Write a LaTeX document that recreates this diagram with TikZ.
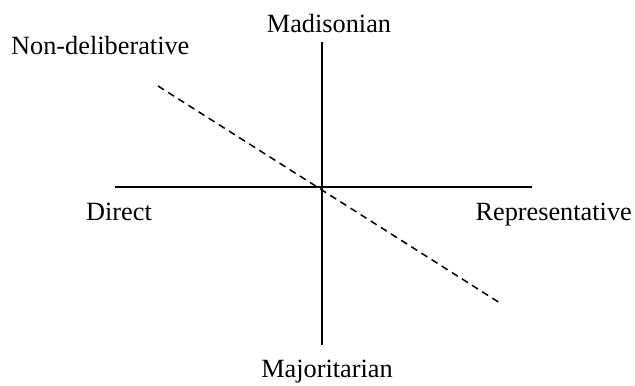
\documentclass[tikz,border=0pt]{standalone}
\usepackage{fontspec}
\setmainfont{Liberation Serif}
\begin{document}
\begin{tikzpicture}[x=1bp,y=-1bp,
  axis/.style={line width=1.6bp, black},
  diag/.style={line width=1.5bp, black, dash pattern=on 7bp off 5bp},
  lab/.style={inner sep=0pt, font=\fontsize{26.3bp}{31bp}\selectfont}]
\useasboundingbox (0,0) rectangle (635,385);
% axis end points
\coordinate (top) at (322,42);
\coordinate (bot) at (322,345);
\coordinate (left) at (115,187);
\coordinate (right) at (532,187);
\coordinate (dstart) at (158,86);
\coordinate (dend) at (500,303);
% axes
\draw[axis] (top) -- (bot);
\draw[axis] (left) -- (right);
\draw[diag] (dstart) -- (dend);
% labels
\node[lab, anchor=base] (mad) at (329,32) {Madisonian};
\node[lab, anchor=base west] (nondel) at (11,54) {Non-deliberative};
\node[lab, anchor=base] (direct) at (119,220) {Direct};
\node[lab, anchor=base east] (rep) at (632,220) {Representative};
\node[lab, anchor=base] (maj) at (327,377) {Majoritarian};
\end{tikzpicture}
\end{document}
